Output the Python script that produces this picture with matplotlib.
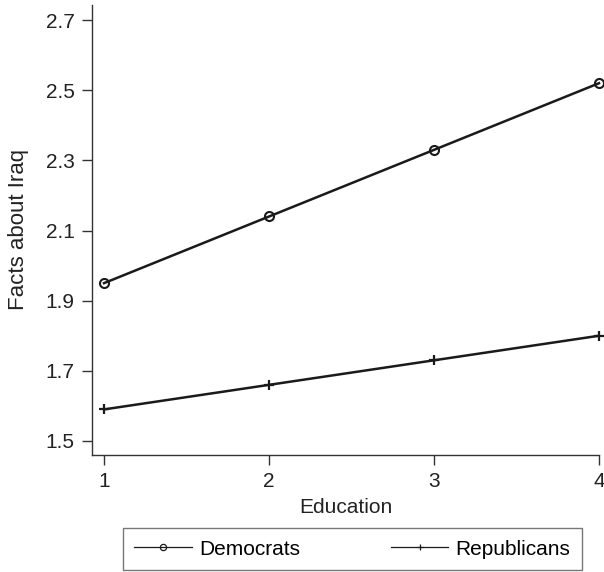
import matplotlib
matplotlib.use("Agg")
import matplotlib.pyplot as plt
from matplotlib.lines import Line2D

plt.rcParams['font.family'] = ['Liberation Sans', 'DejaVu Sans']

# Predicted knowledge scores by education level
education = [1, 2, 3, 4]
democrats = [1.95, 2.14, 2.33, 2.52]
republicans = [1.59, 1.66, 1.73, 1.80]
yticks = [1.5, 1.7, 1.9, 2.1, 2.3, 2.5, 2.7]

ink = '#1a1a1a'
axis_gray = '#333333'
fs = 15

fig = plt.figure(figsize=(6.04, 5.72), dpi=100)
ax = fig.add_axes([92 / 604, 1 - 455 / 572, 507 / 604, 450 / 572])

ax.plot(education, democrats, color=ink, lw=1.8, marker='o', ms=6.5,
        mfc='none', mec=ink, mew=1.5, clip_on=False, zorder=3)
ax.plot(education, republicans, color=ink, lw=1.8, marker='+', ms=7.5,
        mew=1.6, clip_on=False, zorder=3)

ax.set_xlim(0.927, 4.0)
ax.set_ylim(1.46, 2.743)
ax.set_xticks(education)
ax.set_yticks(yticks)
ax.set_yticklabels([f'{v:.1f}' for v in yticks])

for side in ('top', 'right'):
    ax.spines[side].set_visible(False)
for side in ('left', 'bottom'):
    ax.spines[side].set_color(axis_gray)
    ax.spines[side].set_linewidth(1.0)

ax.tick_params(direction='out', length=7, width=1.0, color=axis_gray,
               labelsize=fs, labelcolor='#222222', pad=5.5)
ax.set_xlabel('Education', fontsize=fs, color='#222222', labelpad=5)
ax.set_ylabel('Facts about Iraq', fontsize=16, color='#222222', labelpad=12)

# Legend below the axes with thin sample lines
handles = [
    Line2D([], [], color=ink, lw=0.9, marker='o', ms=4.5, mfc='none', mec=ink, mew=0.9),
    Line2D([], [], color=ink, lw=0.9, marker='+', ms=5, mew=0.9),
]
leg = fig.legend(handles, ['Democrats', 'Republicans'], ncol=2,
                 loc='lower left', bbox_to_anchor=(123 / 604, 2 / 572, 459 / 604, 43 / 572),
                 mode='expand', frameon=True, fancybox=False, fontsize=fs,
                 handlelength=2.75, handletextpad=0.35, borderaxespad=0,
                 columnspacing=3.0, borderpad=0.55)
leg.get_frame().set_edgecolor('#555555')
leg.get_frame().set_linewidth(1.0)

fig.savefig('out.png', dpi=100)
